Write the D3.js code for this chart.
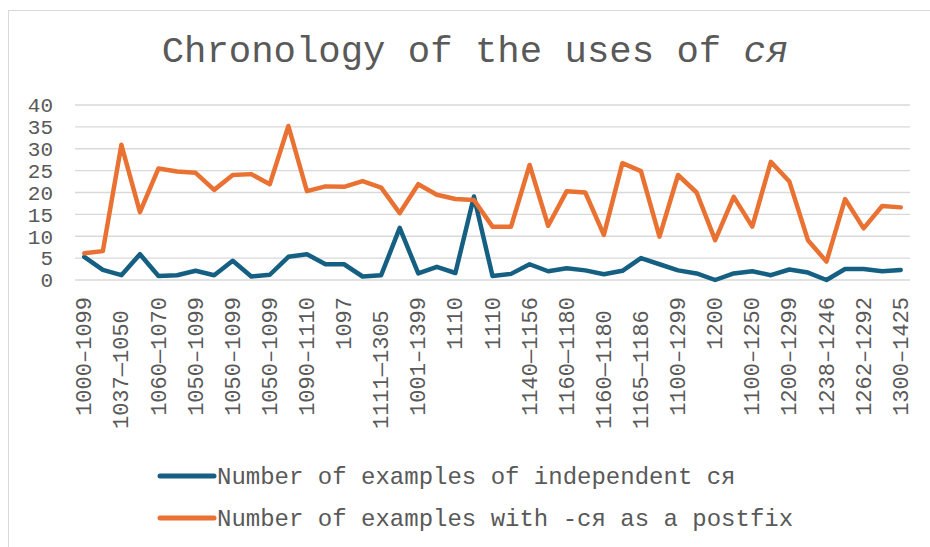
<!DOCTYPE html>
<html><head><meta charset="utf-8">
<script src="https://cdn.jsdelivr.net/npm/d3@7"></script>
<style>
html,body{margin:0;padding:0;background:#fff;}
svg{display:block;}
text{font-family:"Liberation Mono","Courier New",monospace;fill:#595959;white-space:pre;}
</style></head>
<body>
<svg id="chart" width="930" height="547"></svg>
<script>
// Category labels (only every other label is shown on the axis; hidden ones left blank)
const categories = [
  "1000–1099","", "1037—1050 ","", "1060—1070","", "1050–1099","", "1050–1099","",
  "1050–1099","", "1090–1110","", "1097","", "1111—1305 ","", "1001–1399","",
  "1110","", "1110","", "1140—1156","", "1160—1180","", "1160—1180 ","",
  "1165—1186 ","", "1100–1299","", "1200","", "1100–1250","", "1200–1299","",
  "1238–1246","", "1262–1292","", "1300–1425"
];
const independent = [5.3,2.3,1.1,5.9,0.9,1.1,2.1,1.1,4.4,0.8,1.2,5.3,5.9,3.6,3.6,0.8,1.1,11.9,1.5,3.0,1.6,19.1,0.9,1.4,3.6,2.0,2.7,2.2,1.3,2.1,5.0,3.6,2.2,1.5,0.0,1.5,2.0,1.1,2.4,1.7,0.0,2.5,2.5,2.0,2.3];
const postfix = [6.1,6.6,30.9,15.5,25.5,24.8,24.5,20.6,24.0,24.2,21.9,35.2,20.3,21.4,21.3,22.6,21.1,15.3,21.9,19.5,18.5,18.3,12.2,12.2,26.3,12.4,20.3,20.0,10.3,26.7,24.9,9.9,24.0,20.0,9.1,19.0,12.2,27.0,22.5,9.1,4.2,18.5,11.8,16.9,16.6];
const yTicks = [0,5,10,15,20,25,30,35,40];

const svg = d3.select("#chart");
svg.append("rect").attr("x",8.5).attr("y",10.5).attr("width",940).attr("height",560)
  .attr("fill","none").attr("stroke","#D9D9D9").attr("stroke-width",1);

const pLeft = 75, pRight = 910, pTop = 105, pBottom = 280;
const x = d3.scaleBand().domain(d3.range(categories.length)).range([pLeft,pRight]);
const y = d3.scaleLinear().domain([0,40]).range([pBottom,pTop]);

svg.append("g").selectAll("line").data(yTicks).join("line")
  .attr("x1",pLeft).attr("x2",pRight)
  .attr("y1",d=>y(d)).attr("y2",d=>y(d))
  .attr("stroke","#D9D9D9").attr("stroke-width",1.3);

svg.append("g").selectAll("text").data(yTicks).join("text")
  .attr("x",53).attr("y",d=>y(d)).attr("dy","0.35em")
  .attr("text-anchor","end").style("font-size","21px").text(d=>d);

svg.append("g").selectAll("text").data(categories.map((c,i)=>({c,i})).filter(d=>d.c!==""))
  .join("text")
  .attr("transform",d=>`translate(${x(d.i)+x.bandwidth()/2+7},297) rotate(-90)`)
  .attr("text-anchor","end").style("font-size","22px").text(d=>d.c);

const cx = i => x(i)+x.bandwidth()/2;
const line = d3.line().x((d,i)=>cx(i)).y(d=>y(d));
const colors = ["#156082","#E97132"];
[independent, postfix].forEach((s,k)=>{
  svg.append("path").datum(s).attr("d",line).attr("fill","none")
    .attr("stroke",colors[k]).attr("stroke-width",4.5)
    .attr("stroke-linejoin","round").attr("stroke-linecap","round");
});

const t = svg.append("text").attr("x",475).attr("y",62).attr("text-anchor","middle")
  .style("font-size","37.3px");
t.append("tspan").text("Chronology of the uses of ");
t.append("tspan").style("font-style","italic").text("ся");

const legY = [476, 518];
const legText = [
  ["Number of examples of independent ","ся"],
  ["Number of examples with -","ся"," as a postfix"]
];
legY.forEach((ly,k)=>{
  svg.append("line").attr("x1",160).attr("x2",214).attr("y1",ly).attr("y2",ly)
    .attr("stroke",colors[k]).attr("stroke-width",5).attr("stroke-linecap","round");
  const tx = svg.append("text").attr("x",217).attr("y",ly).attr("dy","0.35em").style("font-size","24px");
  legText[k].forEach(p=>tx.append("tspan").text(p));
});
</script>
</body></html>
